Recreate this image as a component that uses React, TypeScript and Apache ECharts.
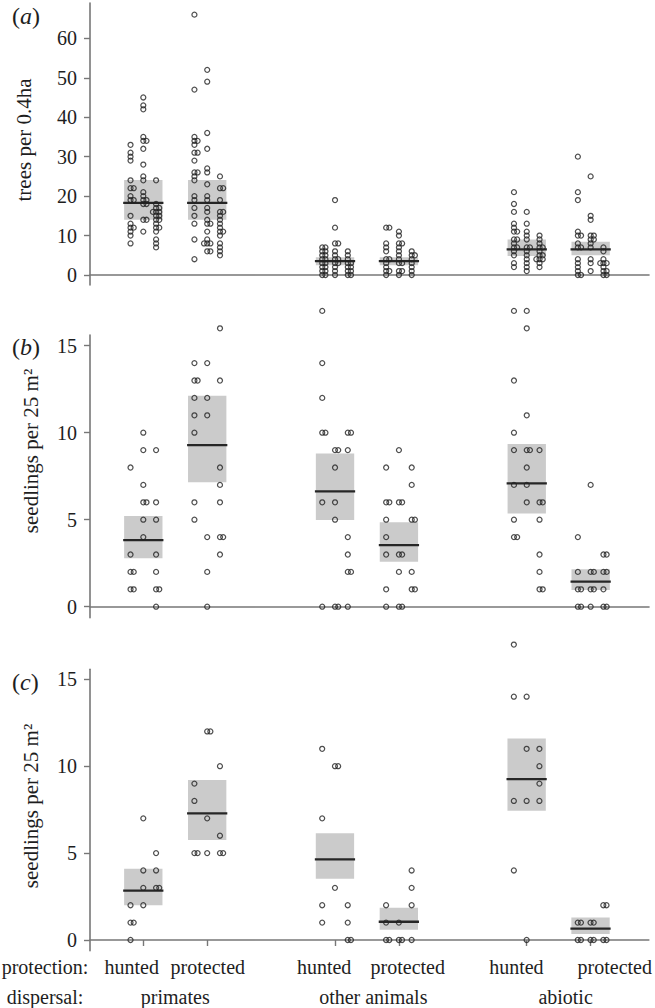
import React, { useEffect, useRef } from "react";
import * as echarts from "echarts";

// ---------- categories / tick labels ----------
const groupPositions = [1, 2, 4, 5, 7, 8];
const protectionLabels = ["hunted", "protected", "hunted", "protected", "hunted", "protected"];
const dispersalLabels = ["primates", "other animals", "abiotic"];
const treesTicks = [0, 10, 20, 30, 40, 50, 60];
const seedlingTicks = [0, 5, 10, 15];
const treesAxisName = "trees per 0.4ha";
const seedlingAxisName = "seedlings per 25 m²";

// ---------- panel (a): trees per 0.4 ha, three sites per group ----------
const treesPrimatesHunted = [
  [33, 31, 30, 29, 24, 22, 22, 20, 19, 19, 15, 13, 12, 12, 11, 10, 8],
  [45, 43, 42, 35, 34, 34, 32, 28, 25, 24, 21, 20, 19, 19, 18, 18, 14, 14, 11],
  [24, 18, 17, 17, 16, 16, 16, 15, 15, 14, 14, 13, 12, 12, 11, 9, 8, 7],
];
const treesPrimatesProtected = [
  [66, 47, 35, 34, 34, 33, 31, 31, 29, 26, 26, 25, 24, 20, 19, 17, 15, 13, 9, 4],
  [52, 49, 36, 32, 27, 26, 23, 20, 19, 17, 16, 14, 13, 13, 11, 9, 8, 8, 8, 6, 6],
  [25, 22, 22, 19, 16, 16, 15, 14, 13, 12, 11, 11, 10, 8, 7, 6, 5],
];
const treesOtherHunted = [
  [7, 7, 6, 6, 5, 5, 4, 4, 3, 3, 2, 2, 1, 1, 0, 0],
  [19, 12, 8, 8, 6, 5, 4, 4, 3, 3, 2, 1, 0],
  [6, 5, 4, 3, 3, 2, 2, 1, 1, 0, 0],
];
const treesOtherProtected = [
  [12, 12, 8, 7, 6, 4, 4, 3, 2, 1, 1, 0],
  [11, 10, 8, 8, 7, 6, 5, 4, 3, 3, 1, 1, 0],
  [6, 5, 5, 4, 3, 2, 1, 0],
];
const treesAbioticHunted = [
  [21, 18, 16, 13, 12, 11, 11, 9, 9, 8, 7, 7, 6, 5, 3, 2],
  [16, 13, 11, 10, 9, 7, 7, 6, 5, 4, 3, 2, 1],
  [10, 9, 8, 7, 7, 6, 5, 5, 4, 4, 4, 3, 2],
];
const treesAbioticProtected = [
  [30, 21, 19, 11, 10, 10, 8, 7, 7, 4, 3, 2, 1, 0, 0],
  [25, 15, 14, 10, 10, 9, 9, 8, 7, 4, 3, 1],
  [7, 6, 4, 3, 3, 3, 2, 1, 1, 0, 0],
];
const treesMedian = [18.3, 18.3, 3.5, 3.5, 6.5, 6.5];
const treesLower = [14, 14, 2.5, 2.5, 4.8, 5.0];
const treesUpper = [24.1, 24.1, 4.5, 4.5, 9.0, 8.4];

// ---------- panel (b): seedlings per 25 m2 ----------
const seedBPrimatesHunted = [[8, 3, 2, 2, 1, 1], [10, 9, 7, 6, 6, 5, 4], [9, 6, 5, 3, 2, 1, 1, 0]];
const seedBPrimatesProtected = [[14, 13, 13, 12, 11, 10, 6, 5], [14, 12, 11, 4, 2, 0], [16, 13, 8, 7, 6, 4, 4, 3]];
const seedBOtherHunted = [[17, 14, 12, 10, 10, 6, 0], [9, 9, 8, 6, 5, 0, 0], [10, 10, 9, 4, 3, 2, 2, 0]];
const seedBOtherProtected = [[8, 6, 6, 5, 4, 3, 1, 0], [9, 6, 6, 3, 3, 2, 0, 0], [8, 7, 5, 5, 2, 1, 1]];
const seedBAbioticHunted = [[17, 13, 10, 9, 7, 5, 4, 4], [17, 16, 11, 9, 9, 8, 7, 6], [9, 6, 6, 5, 3, 2, 1, 1]];
const seedBAbioticProtected = [[4, 2, 1, 1, 0, 0], [7, 2, 2, 1, 1, 0], [3, 3, 2, 2, 1, 0, 0]];
const seedBMedian = [3.83, 9.29, 6.63, 3.54, 7.09, 1.44];
const seedBLower = [2.78, 7.15, 4.98, 2.59, 5.36, 0.96];
const seedBUpper = [5.21, 12.13, 8.81, 4.85, 9.35, 2.15];

// ---------- panel (c): seedlings per 25 m2 ----------
const seedCPrimatesHunted = [[2, 1, 1, 0], [7, 4, 3, 2], [5, 4, 3, 3]];
const seedCPrimatesProtected = [[9, 8, 5, 5], [12, 12, 7, 5], [10, 6, 5, 5]];
const seedCOtherHunted = [[11, 7, 2, 1], [10, 10, 3], [2, 1, 0, 0]];
const seedCOtherProtected = [[2, 1, 0, 0], [1, 0, 0], [4, 3, 2, 0]];
const seedCAbioticHunted = [[17, 14, 8, 4], [14, 11, 8, 0], [11, 10, 9, 8]];
const seedCAbioticProtected = [[1, 1, 0, 0], [1, 1, 0, 0], [2, 2, 0, 0]];
const seedCMedian = [2.84, 7.29, 4.64, 1.05, 9.26, 0.65];
const seedCLower = [2.0, 5.75, 3.53, 0.59, 7.44, 0.35];
const seedCUpper = [4.1, 9.2, 6.14, 1.86, 11.6, 1.3];

// ---------- layout / style constants ----------
const FONT = "Liberation Serif";
const INK = "#1e1e1e";
const AXIS = "#777";
const SITE_OFFSETS = [-0.2, 0, 0.2];
const DUP_STEP = 0.05;
// label anchors (the original figure places its bottom labels slightly off the ticks)
const PROTECTION_LABEL_ANCHORS = [0.82, 2.01, 3.83, 5.14, 6.84, 8.38];
const DISPERSAL_LABEL_ANCHORS = [1.5, 4.6, 7.61];

function buildPoints(groups: number[][][]) {
  const pts: number[][] = [];
  groups.forEach((sites, g) => {
    sites.forEach((vals, s) => {
      const seen: Record<number, number> = {};
      vals.forEach((v) => {
        const k = seen[v] || 0;
        seen[v] = k + 1;
        const shift = k === 0 ? 0 : (k % 2 === 1 ? 1 : -1) * Math.ceil(k / 2) * DUP_STEP;
        pts.push([groupPositions[g] + SITE_OFFSETS[s] + shift, v]);
      });
    });
  });
  return pts;
}

function buildBoxes(med: number[], lo: number[], hi: number[]) {
  return groupPositions.map((x, i) => [x, lo[i], hi[i], med[i]]);
}

const renderBox = (params: any, api: any) => {
  const x = api.value(0);
  const lo = api.value(1);
  const hi = api.value(2);
  const med = api.value(3);
  const p1 = api.coord([x - 0.3, hi]);
  const p2 = api.coord([x + 0.3, lo]);
  const m1 = api.coord([x - 0.315, med]);
  const m2 = api.coord([x + 0.315, med]);
  return {
    type: "group",
    children: [
      {
        type: "rect",
        shape: { x: p1[0], y: p1[1], width: p2[0] - p1[0], height: p2[1] - p1[1] },
        style: { fill: "#cbcbcb" },
      },
      {
        type: "line",
        shape: { x1: m1[0], y1: m1[1], x2: m2[0], y2: m2[1] },
        style: { stroke: "#262626", lineWidth: 2.3 },
      },
    ],
  };
};

export default function App() {
  const ref = useRef<HTMLDivElement>(null);
  useEffect(() => {
    if (!ref.current) return;
    const chart = echarts.init(ref.current, undefined, { renderer: "svg" });

    const grids = [
      { left: 90, top: 3, width: 559, height: 282 },
      { left: 90, top: 335, width: 559, height: 282.7 },
      { left: 90, top: 669.3, width: 559, height: 281.4 },
    ];
    const xMin = 0.166;
    const xMax = 8.913;
    const axisLine = { show: true, lineStyle: { color: AXIS, width: 1.6 } };

    const labelFor = (positions: number[], labels: string[]) => (v: number) => {
      const i = positions.findIndex((p) => Math.abs(p - v) < 1e-6);
      return i >= 0 ? labels[i] : "";
    };

    const xAxes: any[] = [0, 1, 2].map((g) => ({
      type: "value",
      gridIndex: g,
      min: xMin,
      max: xMax,
      axisLine,
      splitLine: { show: false },
      axisTick:
        g === 2
          ? { show: true, customValues: groupPositions, length: 6, lineStyle: { color: AXIS, width: 1.4 } }
          : { show: false },
      axisLabel:
        g === 2
          ? {
              show: true,
              customValues: PROTECTION_LABEL_ANCHORS,
              formatter: labelFor(PROTECTION_LABEL_ANCHORS, protectionLabels),
              showMinLabel: true,
              showMaxLabel: true,
              hideOverlap: false,
              margin: 6,
              fontFamily: FONT,
              fontSize: 20,
              color: INK,
            }
          : { show: false },
    }));
    xAxes.push({
      type: "value",
      gridIndex: 2,
      min: xMin,
      max: xMax,
      position: "bottom",
      offset: 30,
      axisLine: { show: false },
      axisTick: { show: false },
      splitLine: { show: false },
      axisLabel: {
        show: true,
        customValues: DISPERSAL_LABEL_ANCHORS,
        formatter: labelFor(DISPERSAL_LABEL_ANCHORS, dispersalLabels),
        showMinLabel: true,
        showMaxLabel: true,
        margin: 6,
        fontFamily: FONT,
        fontSize: 20,
        color: INK,
      },
    });

    const yDefs = [
      { min: -2.535, max: 68.95, ticks: treesTicks },
      { min: -0.632, max: 15.615, ticks: seedlingTicks },
      { min: -0.616, max: 15.576, ticks: seedlingTicks },
    ];
    const yAxes = yDefs.map((d, g) => ({
      type: "value",
      gridIndex: g,
      min: d.min,
      max: d.max,
      axisLine,
      splitLine: { show: false },
      axisTick: { show: true, customValues: d.ticks, length: 6, lineStyle: { color: AXIS, width: 1.4 } },
      axisLabel: {
        show: true,
        customValues: d.ticks,
        showMinLabel: true,
        showMaxLabel: true,
        margin: 13,
        fontFamily: FONT,
        fontSize: 20,
        color: INK,
      },
    }));

    const panels = [
      {
        groups: [treesPrimatesHunted, treesPrimatesProtected, treesOtherHunted, treesOtherProtected, treesAbioticHunted, treesAbioticProtected],
        boxes: buildBoxes(treesMedian, treesLower, treesUpper),
      },
      {
        groups: [seedBPrimatesHunted, seedBPrimatesProtected, seedBOtherHunted, seedBOtherProtected, seedBAbioticHunted, seedBAbioticProtected],
        boxes: buildBoxes(seedBMedian, seedBLower, seedBUpper),
      },
      {
        groups: [seedCPrimatesHunted, seedCPrimatesProtected, seedCOtherHunted, seedCOtherProtected, seedCAbioticHunted, seedCAbioticProtected],
        boxes: buildBoxes(seedCMedian, seedCLower, seedCUpper),
      },
    ];

    const series: any[] = [];
    panels.forEach((p, g) => {
      series.push({
        type: "custom",
        xAxisIndex: g,
        yAxisIndex: g,
        renderItem: renderBox,
        data: p.boxes,
        z: 2,
        clip: false,
        silent: true,
      });
      series.push({
        type: "scatter",
        xAxisIndex: g,
        yAxisIndex: g,
        data: buildPoints(p.groups),
        symbol: "circle",
        symbolSize: 5,
        clip: false,
        z: 3,
        itemStyle: { color: "rgba(0,0,0,0)", borderColor: "#222", borderWidth: 1.25 },
        silent: true,
      });
    });

    const panelLabel = (letter: string, y: number) => ({
      type: "text",
      x: 12,
      y,
      style: {
        text: `{p|(}{i|${letter}}{p|)}`,
        align: "left",
        verticalAlign: "middle",
        fill: INK,
        fontFamily: FONT,
        fontSize: 24,
        rich: {
          p: { fontFamily: FONT, fontSize: 24, color: INK },
          i: { fontFamily: FONT, fontSize: 24, fontStyle: "italic", color: INK },
        },
      },
    });

    const axisName = (text: string, x: number, y: number) => ({
      type: "text",
      x,
      y,
      rotation: Math.PI / 2,
      style: { text, align: "center", verticalAlign: "middle", fill: INK, fontFamily: FONT, fontSize: 21 },
    });

    const rowLabel = (text: string, y: number) => ({
      type: "text",
      x: 45,
      y,
      style: { text, align: "center", verticalAlign: "middle", fill: INK, fontFamily: FONT, fontSize: 20 },
    });

    chart.setOption({
      animation: false,
      backgroundColor: "#ffffff",
      grid: grids,
      xAxis: xAxes,
      yAxis: yAxes,
      series,
      graphic: [
        panelLabel("a", 16),
        panelLabel("b", 347),
        panelLabel("c", 682),
        axisName(treesAxisName, 24, 140),
        axisName(seedlingAxisName, 31, 451),
        axisName(seedlingAxisName, 31, 806),
        rowLabel("protection:", 966.5),
        rowLabel("dispersal:", 996.5),
      ],
    });
    return () => chart.dispose();
  }, []);

  return (
    <div
      ref={ref}
      style={{ position: "absolute", left: 0, top: 0, width: 655, height: 1008, background: "#fff" }}
    />
  );
}
